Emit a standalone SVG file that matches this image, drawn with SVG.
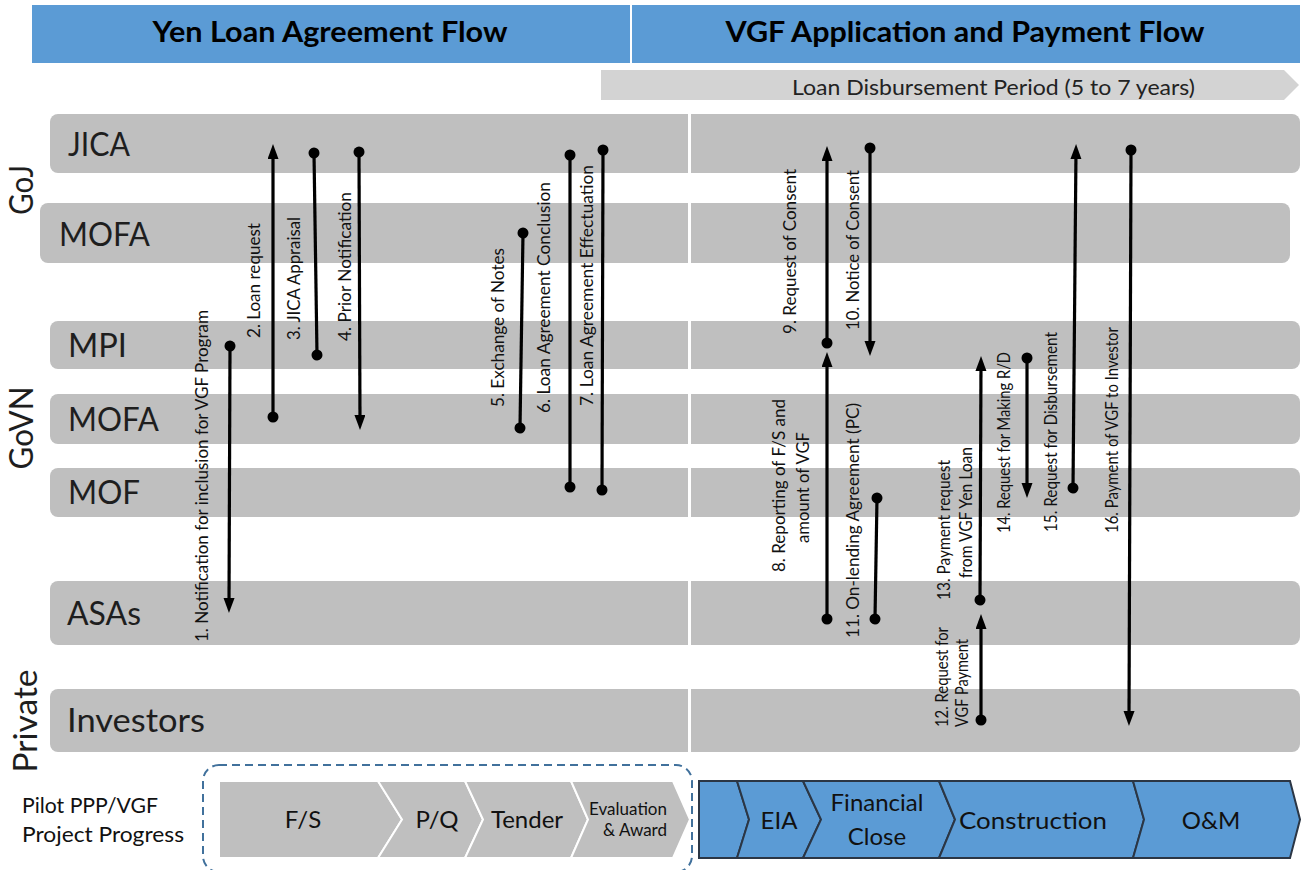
<svg xmlns="http://www.w3.org/2000/svg" width="1301" height="870" viewBox="0 0 1301 870">
<defs>
<style>
.lane{fill:#bfbfbf}
.ln{font-family:Lato,"Liberation Sans",sans-serif;font-size:32px;fill:#1e1e1e}
.grp{font-family:Lato,"Liberation Sans",sans-serif;font-size:32px;fill:#1e1e1e}
.hdr{font-family:Lato,"Liberation Sans",sans-serif;font-size:28px;font-weight:bold;fill:#000}
.lbl{font-family:Lato,"Liberation Sans",sans-serif;font-size:17px;fill:#111}
.conn{stroke:#000;stroke-width:3.2;fill:none}
.arr{marker-start:url(#dot);marker-end:url(#head)}
.dd{marker-start:url(#dot);marker-end:url(#dot)}
.chg{fill:#bfbfbf;stroke:#fff;stroke-width:2}
.chb{fill:#5b9bd5;stroke:#2b3645;stroke-width:2;stroke-linejoin:miter}
.cht{font-family:Lato,"Liberation Sans",sans-serif;font-size:24px;fill:#111;text-anchor:middle}
</style>
<marker id="dot" markerUnits="userSpaceOnUse" markerWidth="14" markerHeight="14" refX="7" refY="7" orient="auto"><circle cx="7" cy="7" r="5.5" fill="#000"/></marker>
<marker id="head" markerUnits="userSpaceOnUse" markerWidth="16" markerHeight="12" refX="9" refY="5.5" orient="auto"><path d="M0,0 L15,5.5 L0,11 Z" fill="#000"/></marker>
</defs>
<rect width="1301" height="870" fill="#fff"/>

<g id="header">
<rect x="32" y="5" width="1268" height="58" fill="#5b9bd5"/>
<rect x="630" y="5" width="2" height="58" fill="#fff"/>
<text class="hdr" x="330" y="42" text-anchor="middle" textLength="355" lengthAdjust="spacingAndGlyphs">Yen Loan Agreement Flow</text>
<text class="hdr" x="965" y="42" text-anchor="middle" textLength="479" lengthAdjust="spacingAndGlyphs">VGF Application and Payment Flow</text>
</g>

<g id="period">
<path d="M601,70 L1284,70 L1299,85 L1284,100 L601,100 Z" fill="#d3d3d3"/>
<text x="792" y="95" font-family="Lato,'Liberation Sans',sans-serif" font-size="22" fill="#222" textLength="403" lengthAdjust="spacingAndGlyphs">Loan Disbursement Period (5 to 7 years)</text>
</g>

<g id="groups">
<text class="grp" transform="translate(33,190) rotate(-90)" text-anchor="middle" textLength="50" lengthAdjust="spacingAndGlyphs">GoJ</text>
<text class="grp" transform="translate(33,428) rotate(-90)" text-anchor="middle" textLength="83" lengthAdjust="spacingAndGlyphs">GoVN</text>
<text class="grp" transform="translate(37,721) rotate(-90)" text-anchor="middle" textLength="103" lengthAdjust="spacingAndGlyphs">Private</text>
</g>

<g id="lane-jica"><rect class="lane" x="50" y="114" width="1250" height="59" rx="8"/><text class="ln" x="68" y="156" textLength="62" lengthAdjust="spacingAndGlyphs">JICA</text></g>
<g id="lane-mofa-goj"><rect class="lane" x="40" y="203" width="1250" height="60" rx="8"/><text class="ln" x="59" y="246" textLength="91" lengthAdjust="spacingAndGlyphs">MOFA</text></g>
<g id="lane-mpi"><rect class="lane" x="50" y="321" width="1250" height="48" rx="8"/><text class="ln" x="68" y="357" textLength="59" lengthAdjust="spacingAndGlyphs">MPI</text></g>
<g id="lane-mofa-govn"><rect class="lane" x="50" y="394" width="1250" height="50" rx="8"/><text class="ln" x="68" y="431" textLength="91" lengthAdjust="spacingAndGlyphs">MOFA</text></g>
<g id="lane-mof"><rect class="lane" x="50" y="468" width="1250" height="49" rx="8"/><text class="ln" x="68" y="504" textLength="72" lengthAdjust="spacingAndGlyphs">MOF</text></g>
<g id="lane-asas"><rect class="lane" x="50" y="581" width="1250" height="64" rx="8"/><text class="ln" x="67" y="625" textLength="74" lengthAdjust="spacingAndGlyphs">ASAs</text></g>
<g id="lane-investors"><rect class="lane" x="50" y="689" width="1250" height="63" rx="8"/><text class="ln" x="67" y="732" textLength="138" lengthAdjust="spacingAndGlyphs">Investors</text></g>
<rect id="phase-divider" x="688" y="110" width="3" height="646" fill="#fff"/>

<g id="connectors">
<line class="conn arr" x1="230" y1="346" x2="229" y2="607"/>
<line class="conn arr" x1="273" y1="417" x2="273" y2="150"/>
<line class="conn dd" x1="314" y1="153" x2="317" y2="355"/>
<line class="conn arr" x1="359" y1="152" x2="360" y2="424"/>
<line class="conn dd" x1="523" y1="233" x2="520" y2="428"/>
<line class="conn dd" x1="570" y1="155" x2="570" y2="487"/>
<line class="conn dd" x1="603" y1="150" x2="602" y2="490"/>
<line class="conn arr" x1="827" y1="619" x2="827" y2="358"/>
<line class="conn arr" x1="827" y1="343" x2="827" y2="152"/>
<line class="conn arr" x1="870" y1="148" x2="870" y2="350"/>
<line class="conn dd" x1="877" y1="498" x2="875" y2="619"/>
<line class="conn arr" x1="981" y1="720" x2="981" y2="620"/>
<line class="conn arr" x1="980" y1="600" x2="981" y2="362"/>
<line class="conn arr" x1="1027" y1="358" x2="1027" y2="492"/>
<line class="conn arr" x1="1073" y1="488" x2="1076" y2="150"/>
<line class="conn arr" x1="1131" y1="150" x2="1129" y2="720"/>

<text class="lbl" transform="translate(208,642) rotate(-90)" textLength="332" lengthAdjust="spacingAndGlyphs">1. Notification for inclusion for VGF Program</text>
<text class="lbl" transform="translate(260,338) rotate(-90)" textLength="115" lengthAdjust="spacingAndGlyphs">2. Loan request</text>
<text class="lbl" transform="translate(300,340) rotate(-90)" textLength="123" lengthAdjust="spacingAndGlyphs">3. JICA Appraisal</text>
<text class="lbl" transform="translate(351,341) rotate(-90)" textLength="149" lengthAdjust="spacingAndGlyphs">4. Prior Notification</text>
<text class="lbl" transform="translate(504,407) rotate(-90)" textLength="159" lengthAdjust="spacingAndGlyphs">5. Exchange of Notes</text>
<text class="lbl" transform="translate(550,413) rotate(-90)" textLength="231" lengthAdjust="spacingAndGlyphs">6. Loan Agreement Conclusion</text>
<text class="lbl" transform="translate(593,406) rotate(-90)" textLength="241" lengthAdjust="spacingAndGlyphs">7. Loan Agreement Effectuation</text>
<text class="lbl" transform="translate(785,572) rotate(-90)" textLength="173" lengthAdjust="spacingAndGlyphs">8. Reporting of F/S and</text>
<text class="lbl" transform="translate(809,543) rotate(-90)" textLength="111" lengthAdjust="spacingAndGlyphs">amount of VGF</text>
<text class="lbl" transform="translate(796,334) rotate(-90)" textLength="165" lengthAdjust="spacingAndGlyphs">9. Request of Consent</text>
<text class="lbl" transform="translate(859,330) rotate(-90)" textLength="160" lengthAdjust="spacingAndGlyphs">10. Notice of Consent</text>
<text class="lbl" transform="translate(859,638) rotate(-90)" textLength="235" lengthAdjust="spacingAndGlyphs">11. On-lending Agreement (PC)</text>
<text class="lbl" transform="translate(948,727) rotate(-90)" textLength="100" lengthAdjust="spacingAndGlyphs">12. Request for</text>
<text class="lbl" transform="translate(968,727) rotate(-90)" textLength="88" lengthAdjust="spacingAndGlyphs">VGF Payment</text>
<text class="lbl" transform="translate(950,600) rotate(-90)" textLength="140" lengthAdjust="spacingAndGlyphs">13. Payment request</text>
<text class="lbl" transform="translate(972,578) rotate(-90)" textLength="131" lengthAdjust="spacingAndGlyphs">from  VGF Yen Loan</text>
<text class="lbl" transform="translate(1010,533) rotate(-90)" textLength="181" lengthAdjust="spacingAndGlyphs">14. Request for Making R/D</text>
<text class="lbl" transform="translate(1057,532) rotate(-90)" textLength="200" lengthAdjust="spacingAndGlyphs">15. Request for Disbursement</text>
<text class="lbl" transform="translate(1118,533) rotate(-90)" textLength="206" lengthAdjust="spacingAndGlyphs">16. Payment of VGF to Investor</text>
</g>

<g id="progress-label">
<text x="22" y="813" font-family="Lato,'Liberation Sans',sans-serif" font-size="21" fill="#111" textLength="136" lengthAdjust="spacingAndGlyphs">Pilot PPP/VGF</text>
<text x="22" y="842" font-family="Lato,'Liberation Sans',sans-serif" font-size="21" fill="#111" textLength="162" lengthAdjust="spacingAndGlyphs">Project Progress</text>
</g>

<g id="pre-phase">
<rect x="203" y="765" width="489" height="107" rx="16" fill="none" stroke="#41719c" stroke-width="2" stroke-dasharray="8 5"/>
<g id="step-fs"><path class="chg" d="M219,781 L378,781 L402,819.5 L378,858 L219,858 Z"/><text class="cht" x="303" y="828">F/S</text></g>
<g id="step-pq"><path class="chg" d="M378,781 L465,781 L483,819.5 L465,858 L378,858 L402,819.5 Z"/><text class="cht" x="437" y="828">P/Q</text></g>
<g id="step-tender"><path class="chg" d="M465,781 L571,781 L588,819.5 L571,858 L465,858 L483,819.5 Z"/><text class="cht" x="527" y="828">Tender</text></g>
<g id="step-eval"><path class="chg" d="M571,781 L673,781 L690,819.5 L673,858 L571,858 L588,819.5 Z"/><text class="cht" x="667" y="815" style="text-anchor:end;font-size:17px">Evaluation</text><text class="cht" x="667" y="836" style="text-anchor:end;font-size:17px">&amp; Award</text></g>
</g>

<g id="post-phase">
<g id="step-start"><path class="chb" d="M699,781 L737,781 L749,819.5 L737,858 L699,858 Z"/></g>
<g id="step-eia"><path class="chb" d="M737,781 L803,781 L821,819.5 L803,858 L737,858 L749,819.5 Z"/><text class="cht" x="779" y="829">EIA</text></g>
<g id="step-fc"><path class="chb" d="M803,781 L939,781 L955,819.5 L939,858 L803,858 L821,819.5 Z"/><text class="cht" x="877" y="811">Financial</text><text class="cht" x="877" y="845">Close</text></g>
<g id="step-construction"><path class="chb" d="M939,781 L1133,781 L1144,819.5 L1133,858 L939,858 L955,819.5 Z"/><text class="cht" x="1033" y="829" textLength="148" lengthAdjust="spacingAndGlyphs">Construction</text></g>
<g id="step-om"><path class="chb" d="M1133,781 L1290,781 L1300,819.5 L1290,858 L1133,858 L1144,819.5 Z"/><text class="cht" x="1211" y="829">O&amp;M</text></g>
</g>
</svg>
